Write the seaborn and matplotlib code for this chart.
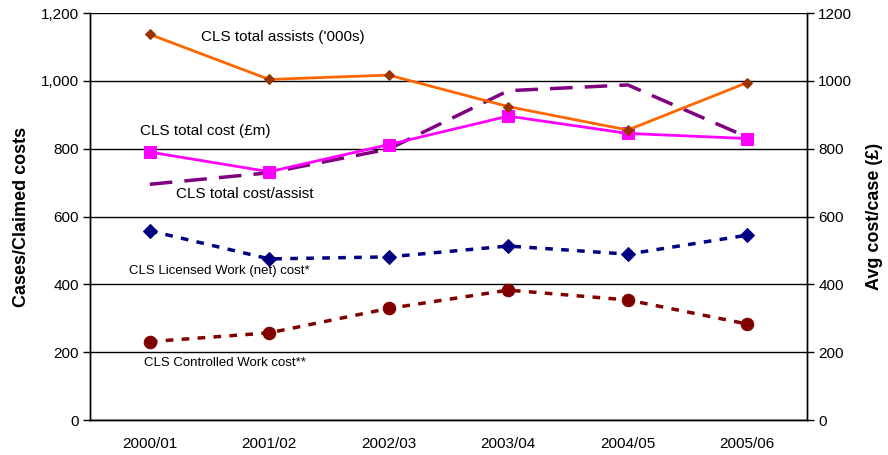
import matplotlib.pyplot as plt
import matplotlib.ticker as mticker
import numpy as np
import pandas as pd
import seaborn as sns

sns.set_style('white')
plt.rcParams['font.family'] = ['Liberation Sans', 'DejaVu Sans']
plt.rcParams['text.color'] = 'black'
plt.rcParams['axes.labelcolor'] = 'black'
plt.rcParams['xtick.color'] = 'black'
plt.rcParams['ytick.color'] = 'black'

# Data
years = ['2000/01', '2001/02', '2002/03', '2003/04', '2004/05', '2005/06']
total_assists = [1137, 1004, 1017, 924, 855, 995]
total_cost = [790, 732, 812, 896, 845, 830]
cost_per_assist = [695, 729, 799, 971, 988, 834]
licensed_cost = [558, 475, 481, 513, 489, 545]
controlled_cost = [231, 257, 329, 383, 354, 283]

df = pd.DataFrame({
    'pos': np.arange(len(years)),
    'assists': total_assists,
    'cost': total_cost,
    'per_assist': cost_per_assist,
    'licensed': licensed_cost,
    'controlled': controlled_cost,
})

fig = plt.figure(figsize=(8.88, 4.55), dpi=100)
ax = fig.add_axes([0.1014, 0.0769, 0.8074, 0.8945])
ax2 = ax.twinx()
# keep the left-axis series above the right-axis dashed line
ax.set_zorder(ax2.get_zorder() + 1)
ax.patch.set_visible(False)

sns.lineplot(data=df, x='pos', y='assists', ax=ax, color='#FF6600', lw=2,
             marker='D', markersize=5, markerfacecolor='#993300',
             markeredgecolor='#993300', zorder=5)
sns.lineplot(data=df, x='pos', y='cost', ax=ax, color='#FF00FF', lw=2,
             marker='s', markersize=8, markerfacecolor='#FF00FF',
             markeredgecolor='#FF00FF', zorder=4)
sns.lineplot(data=df, x='pos', y='licensed', ax=ax, color='#000080', lw=2.5,
             marker='D', markersize=7, markerfacecolor='#000080',
             markeredgecolor='#000080', zorder=4)
ax.lines[-1].set_dashes([2.2, 2.4])
sns.lineplot(data=df, x='pos', y='controlled', ax=ax, color='#800000', lw=2.5,
             marker='o', markersize=9, markerfacecolor='#800000',
             markeredgecolor='#800000', zorder=4)
ax.lines[-1].set_dashes([2.2, 2.4])
sns.lineplot(data=df, x='pos', y='per_assist', ax=ax2, color='#800080', lw=2.5,
             zorder=3)
ax2.lines[-1].set_dashes([6.5, 3.5])

for a in (ax, ax2):
    a.set_ylim(0, 1200)
    a.set_xlim(-0.5, len(years) - 0.5)
    a.yaxis.set_major_locator(mticker.MultipleLocator(200))

ax.yaxis.set_major_formatter(mticker.FuncFormatter(lambda v, p: f'{int(v):,}'))
ax2.yaxis.set_major_formatter(mticker.FuncFormatter(lambda v, p: f'{int(v)}'))

ax.set_xticks(np.arange(len(years)))
ax.set_xticklabels(years)
ax.set_xticks(np.arange(len(years) + 1) - 0.5, minor=True)
ax.tick_params(axis='x', which='major', length=0, pad=12, labelsize=11)
ax.tick_params(axis='x', which='minor', length=5, width=1, direction='out', color='black')
ax.tick_params(axis='y', length=5, width=1, direction='out', color='black', labelsize=11, pad=3)
ax2.tick_params(axis='y', length=5, width=1, direction='out', color='black', labelsize=11, pad=3)

ax.grid(axis='y', color='black', lw=1)
ax.grid(axis='x', visible=False)
ax.set_axisbelow(True)

for a in (ax, ax2):
    a.spines['top'].set_visible(False)
    for s in ('left', 'right', 'bottom'):
        a.spines[s].set_color('black')
        a.spines[s].set_linewidth(1)

ax.set_xlabel('')
ax.set_ylabel('Cases/Claimed costs', fontsize=13, fontweight='bold', labelpad=8)
ax2.set_ylabel('Avg cost/case (£)', fontsize=13, fontweight='bold', labelpad=10)

# Series labels placed beside the lines
ax.text(0.43, 1130, "CLS total assists ('000s)", fontsize=11, va='center')
ax.text(-0.08, 852, 'CLS total cost (£m)', fontsize=11, va='center')
ax.text(0.22, 665, 'CLS total cost/assist', fontsize=11, va='center')
ax.text(-0.17, 438, 'CLS Licensed Work (net) cost*', fontsize=9.5, va='center')
ax.text(-0.05, 168, 'CLS Controlled Work cost**', fontsize=9.5, va='center')

fig.savefig('out.png', dpi=100)
